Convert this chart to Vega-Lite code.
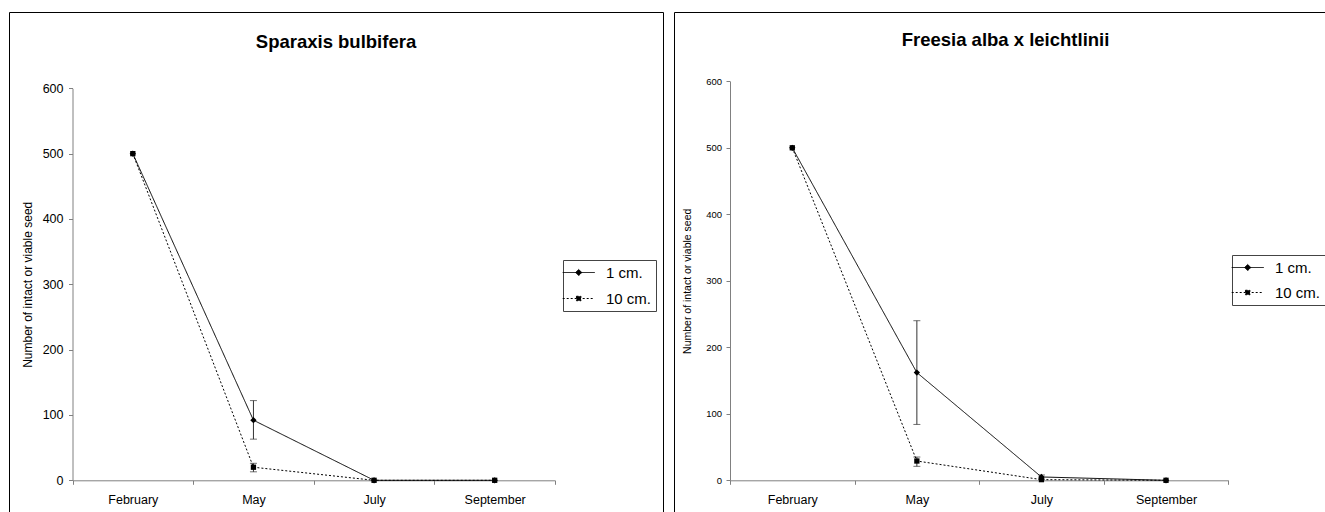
{
  "$schema": "https://vega.github.io/schema/vega-lite/v6.json",
  "padding": {"left": 8, "top": 11, "right": -9, "bottom": -4},
  "background": "white",
  "config": {
    "font": "Liberation Sans",
    "view": {"stroke": "black", "strokeWidth": 1},
    "axis": {"grid": false, "domainColor": "#808080", "tickColor": "#808080", "labelColor": "black", "titleColor": "black", "tickSize": 4, "titleFontWeight": "normal", "minExtent": 0},
    "title": {"fontSize": 18.5, "fontWeight": "bold", "color": "black", "anchor": "middle", "frame": "group", "baseline": "alphabetic"},
    "concat": {"spacing": 9}
  },
  "datasets": {
    "sparaxis": [
      {"month": "February", "depth": "1 cm.", "value": 500, "lo": null, "hi": null},
      {"month": "May", "depth": "1 cm.", "value": 92, "lo": 63, "hi": 122},
      {"month": "July", "depth": "1 cm.", "value": 0, "lo": null, "hi": null},
      {"month": "September", "depth": "1 cm.", "value": 0, "lo": null, "hi": null},
      {"month": "February", "depth": "10 cm.", "value": 500, "lo": null, "hi": null},
      {"month": "May", "depth": "10 cm.", "value": 20, "lo": 13, "hi": 26},
      {"month": "July", "depth": "10 cm.", "value": 0, "lo": null, "hi": null},
      {"month": "September", "depth": "10 cm.", "value": 0, "lo": null, "hi": null}
    ],
    "freesia": [
      {"month": "February", "depth": "1 cm.", "value": 500, "lo": null, "hi": null},
      {"month": "May", "depth": "1 cm.", "value": 162, "lo": 84, "hi": 240},
      {"month": "July", "depth": "1 cm.", "value": 5, "lo": 2, "hi": 8},
      {"month": "September", "depth": "1 cm.", "value": 0, "lo": null, "hi": null},
      {"month": "February", "depth": "10 cm.", "value": 500, "lo": null, "hi": null},
      {"month": "May", "depth": "10 cm.", "value": 29, "lo": 21, "hi": 35},
      {"month": "July", "depth": "10 cm.", "value": 1, "lo": null, "hi": null},
      {"month": "September", "depth": "10 cm.", "value": 0, "lo": null, "hi": null}
    ]
  },
  "hconcat": [
    {
      "width": 654,
      "height": 505,
      "title": {"text": "Sparaxis bulbifera", "offset": -39.8},
      "data": {"name": "sparaxis"},
      "encoding": {
        "x": {"field": "month", "type": "nominal", "sort": ["February", "May", "July", "September"], "title": null,
          "scale": {"type": "band", "range": [63.5, 546], "paddingInner": 0, "paddingOuter": 0},
          "axis": {"tickBand": "extent", "offset": -36.7, "labelPadding": 9.5, "labelFontSize": 12.5, "labelAngle": 0}}
      },
      "layer": [
        {
          "mark": {"type": "rule", "color": "#333333", "strokeWidth": 1},
          "encoding": {
            "y": {"field": "lo", "type": "quantitative", "title": "Number of intact or viable seed", "scale": {"domain": [0, 600], "range": [468.3, 76.3], "nice": false, "zero": false}},
            "y2": {"field": "hi"}
          }
        },
        {
          "mark": {"type": "tick", "orient": "horizontal", "size": 7, "thickness": 1, "color": "#333333"},
          "encoding": {"y": {"field": "hi", "type": "quantitative", "title": "Number of intact or viable seed"}}
        },
        {
          "mark": {"type": "tick", "orient": "horizontal", "size": 7, "thickness": 1, "color": "#333333"},
          "encoding": {"y": {"field": "lo", "type": "quantitative", "title": "Number of intact or viable seed"}}
        },
        {
          "mark": {"type": "line", "color": "black", "strokeWidth": 1},
          "encoding": {
            "y": {"field": "value", "type": "quantitative", "title": "Number of intact or viable seed",
              "axis": {"values": [0, 100, 200, 300, 400, 500, 600], "offset": -63.5, "labelFontSize": 12.5, "labelPadding": 5.5, "titleFontSize": 12, "titlePadding": 8}},
            "strokeDash": {"field": "depth", "type": "nominal",
              "scale": {"domain": ["1 cm.", "10 cm."], "range": [[1, 0], [2, 2]]},
              "legend": {"orient": "none", "legendX": 554, "legendY": 248, "title": null, "symbolSize": 256, "labelFontSize": 15, "labelColor": "black", "labelOffset": 22, "strokeColor": "#444444", "padding": 4, "rowPadding": 9, "symbolStrokeColor": "black", "symbolStrokeWidth": 1, "symbolFillColor": "black",
                "encode": {"symbols": {"update": {"shape": {"signal": "datum.value == '1 cm.' ? 'M-1.6,0H2.4M0.4,-0.38L0.78,0L0.4,0.38L0.02,0Z' : 'M-1.6,0H2.4M0.12,-0.28H0.68V0.28H0.12Z'"}, "fill": {"value": "black"}, "stroke": {"value": "black"}, "strokeWidth": {"value": 1}}}}}
            }
          }
        },
        {
          "transform": [{"filter": "datum.depth == '1 cm.'"}],
          "mark": {"type": "point", "filled": true, "shape": "diamond", "size": 40, "color": "black", "opacity": 1},
          "encoding": {"y": {"field": "value", "type": "quantitative", "title": "Number of intact or viable seed"}}
        },
        {
          "transform": [{"filter": "datum.depth == '10 cm.'"}],
          "mark": {"type": "point", "filled": true, "shape": "square", "size": 28, "color": "black", "opacity": 1},
          "encoding": {"y": {"field": "value", "type": "quantitative", "title": "Number of intact or viable seed"}}
        }
      ]
    },
    {
      "width": 663,
      "height": 505,
      "title": {"text": "Freesia alba x leichtlinii", "offset": -37.8},
      "data": {"name": "freesia"},
      "encoding": {
        "x": {"field": "month", "type": "nominal", "sort": ["February", "May", "July", "September"], "title": null,
          "scale": {"type": "band", "range": [56, 554.3], "paddingInner": 0, "paddingOuter": 0},
          "axis": {"tickBand": "extent", "offset": -36.7, "labelPadding": 9.5, "labelFontSize": 12.5, "labelAngle": 0}}
      },
      "layer": [
        {
          "mark": {"type": "rule", "color": "#333333", "strokeWidth": 1},
          "encoding": {
            "y": {"field": "lo", "type": "quantitative", "title": "Number of intact or viable seed", "scale": {"domain": [0, 600], "range": [468.3, 69.3], "nice": false, "zero": false}},
            "y2": {"field": "hi"}
          }
        },
        {
          "mark": {"type": "tick", "orient": "horizontal", "size": 7, "thickness": 1, "color": "#333333"},
          "encoding": {"y": {"field": "hi", "type": "quantitative", "title": "Number of intact or viable seed"}}
        },
        {
          "mark": {"type": "tick", "orient": "horizontal", "size": 7, "thickness": 1, "color": "#333333"},
          "encoding": {"y": {"field": "lo", "type": "quantitative", "title": "Number of intact or viable seed"}}
        },
        {
          "mark": {"type": "line", "color": "black", "strokeWidth": 1},
          "encoding": {
            "y": {"field": "value", "type": "quantitative", "title": "Number of intact or viable seed",
              "axis": {"values": [0, 100, 200, 300, 400, 500, 600], "offset": -56, "labelFontSize": 9.5, "labelPadding": 4.5, "titleFontSize": 10.5, "titlePadding": 13}},
            "strokeDash": {"field": "depth", "type": "nominal",
              "scale": {"domain": ["1 cm.", "10 cm."], "range": [[1, 0], [2, 2]]},
              "legend": {"orient": "none", "legendX": 558, "legendY": 243, "title": null, "symbolSize": 256, "labelFontSize": 15, "labelColor": "black", "labelOffset": 22, "strokeColor": "#444444", "padding": 4, "rowPadding": 8, "symbolStrokeColor": "black", "symbolStrokeWidth": 1, "symbolFillColor": "black",
                "encode": {"symbols": {"update": {"shape": {"signal": "datum.value == '1 cm.' ? 'M-1.6,0H2.4M0.4,-0.38L0.78,0L0.4,0.38L0.02,0Z' : 'M-1.6,0H2.4M0.12,-0.28H0.68V0.28H0.12Z'"}, "fill": {"value": "black"}, "stroke": {"value": "black"}, "strokeWidth": {"value": 1}}}}}
            }
          }
        },
        {
          "transform": [{"filter": "datum.depth == '1 cm.'"}],
          "mark": {"type": "point", "filled": true, "shape": "diamond", "size": 40, "color": "black", "opacity": 1},
          "encoding": {"y": {"field": "value", "type": "quantitative", "title": "Number of intact or viable seed"}}
        },
        {
          "transform": [{"filter": "datum.depth == '10 cm.'"}],
          "mark": {"type": "point", "filled": true, "shape": "square", "size": 28, "color": "black", "opacity": 1},
          "encoding": {"y": {"field": "value", "type": "quantitative", "title": "Number of intact or viable seed"}}
        }
      ]
    }
  ],
  "resolve": {
    "scale": {"strokeDash": "independent", "y": "independent", "x": "independent"},
    "legend": {"strokeDash": "independent"}
  }
}
